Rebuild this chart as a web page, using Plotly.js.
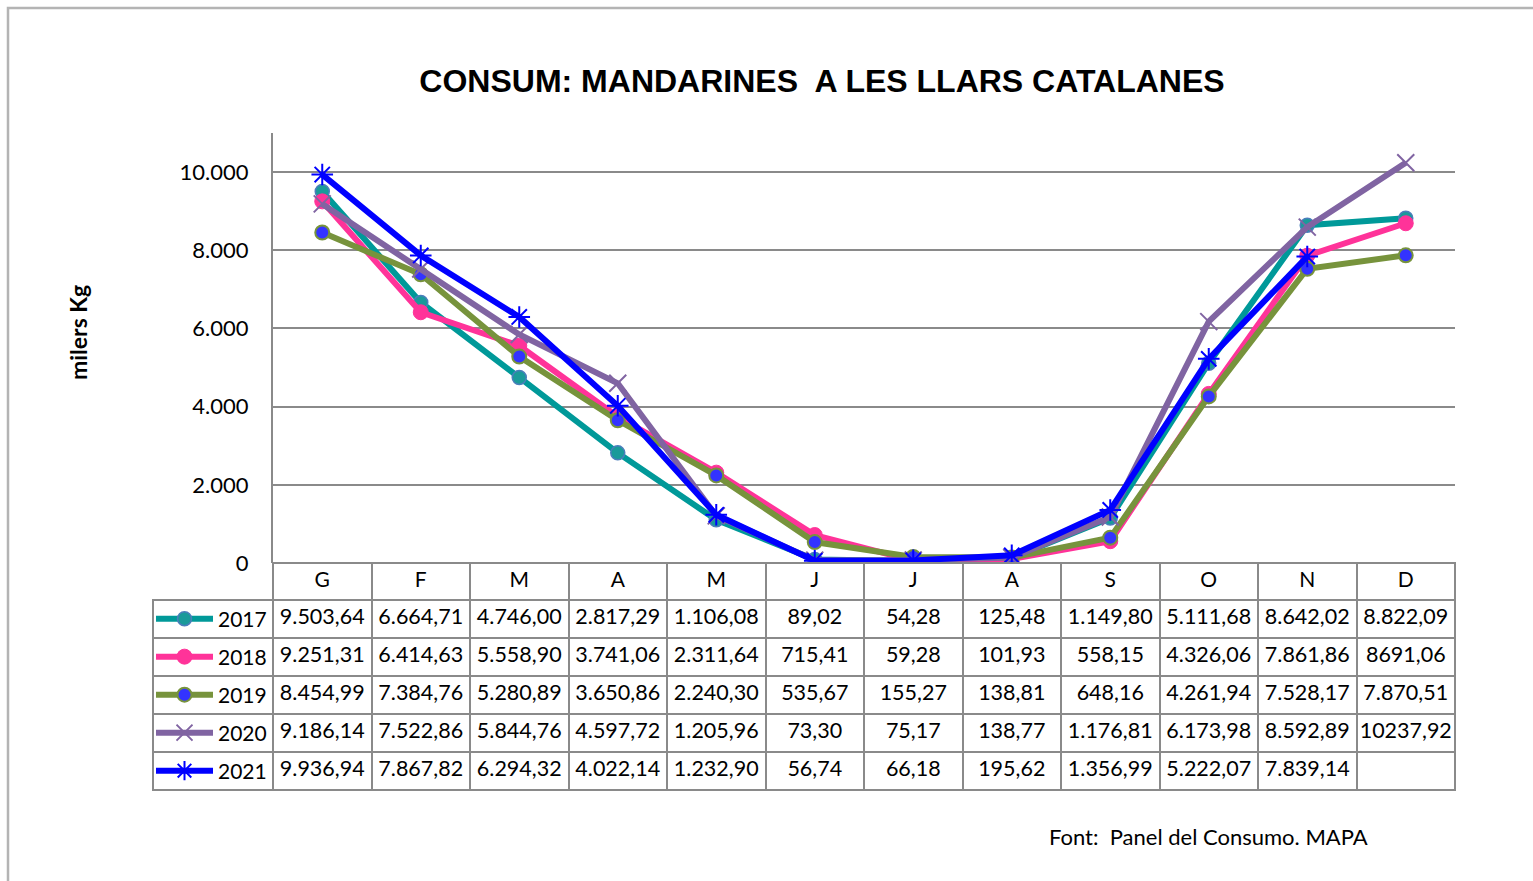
<!DOCTYPE html>
<html>
<head>
<meta charset="utf-8">
<script src="https://cdn.plot.ly/plotly-3.0.1.min.js"></script>
<style>
  html, body { margin: 0; padding: 0; background: #fff; }
  #chart { width: 1533px; height: 881px; }
</style>
</head>
<body>
<div id="chart"></div>
<script>
// months (Catalan initials) and the years in the data table
const months = ["G", "F", "M", "A", "M", "J", "J", "A", "S", "O", "N", "D"];
const years = ["2017", "2018", "2019", "2020", "2021"];

// values as printed in the data table (milers Kg)
const t2017 = ["9.503,64", "6.664,71", "4.746,00", "2.817,29", "1.106,08", "89,02", "54,28", "125,48", "1.149,80", "5.111,68", "8.642,02", "8.822,09"];
const t2018 = ["9.251,31", "6.414,63", "5.558,90", "3.741,06", "2.311,64", "715,41", "59,28", "101,93", "558,15", "4.326,06", "7.861,86", "8691,06"];
const t2019 = ["8.454,99", "7.384,76", "5.280,89", "3.650,86", "2.240,30", "535,67", "155,27", "138,81", "648,16", "4.261,94", "7.528,17", "7.870,51"];
const t2020 = ["9.186,14", "7.522,86", "5.844,76", "4.597,72", "1.205,96", "73,30", "75,17", "138,77", "1.176,81", "6.173,98", "8.592,89", "10237,92"];
const t2021 = ["9.936,94", "7.867,82", "6.294,32", "4.022,14", "1.232,90", "56,74", "66,18", "195,62", "1.356,99", "5.222,07", "7.839,14", ""];

const tables = [t2017, t2018, t2019, t2020, t2021];

// parse "9.503,64" -> 9503.64
const num = s => (s === "" ? null : parseFloat(s.replace(/\./g, "").replace(",", ".")));

const W = 1533, H = 881;
const px = x => x / W;
const py = y => 1 - y / H;

const FONT = "Lato, 'Open Sans', sans-serif";
const GRID = "#8a8a8a";
const NONE = "rgba(0,0,0,0)";

const styles = [
  { line: "#009999", marker: { symbol: "circle", size: 14, color: "#1a9a9a", line: { color: "#4a7ebb", width: 1.5 } } },
  { line: "#ff3399", marker: { symbol: "circle", size: 15, color: "#ff3399", line: { color: "#ff3399", width: 1 } } },
  { line: "#77933c", marker: { symbol: "circle", size: 14, color: "#3333ff", line: { color: "#77933c", width: 2 } } },
  { line: "#8064a2", marker: { symbol: "x-thin-open", size: 17, color: "#8064a2", line: { color: "#8064a2", width: 2 } } },
  { line: "#0000ff", marker: { symbol: "asterisk-open", size: 18, color: "#0000ff", line: { color: "#0000ff", width: 2 } } }
];

const xs = months.map((m, j) => j);

const traces = years.map((yr, i) => ({
  type: "scatter",
  mode: "lines+markers",
  name: yr,
  x: xs,
  y: tables[i].map(num),
  line: { color: styles[i].line, width: 6 },
  marker: styles[i].marker,
  legend: i === 0 ? "legend" : "legend" + (i + 1),
  cliponaxis: false
}));

// data table under the plot
const grayCol = months.map(() => GRID);
const whiteCol = months.map(() => "white");
const table = {
  type: "table",
  domain: { x: [px(153), px(1455)], y: [py(791), py(563)] },
  columnwidth: [120].concat(months.map(() => 98.5)),
  header: {
    values: [""].concat(months),
    align: "center",
    height: 37,
    font: { family: FONT, size: 21, color: "#000" },
    fill: { color: [NONE].concat(whiteCol) },
    line: { color: [NONE].concat(grayCol), width: 2 }
  },
  cells: {
    values: [years.map(() => "")].concat(months.map((m, j) => tables.map(t => t[j]))),
    align: "center",
    height: 38,
    font: { family: FONT, size: 21.5, color: "#000" },
    fill: { color: "white" },
    line: { color: GRID, width: 2 }
  }
};

const rowY = [619, 657, 695, 733, 771];

const layout = {
  width: W,
  height: H,
  margin: { l: 0, r: 0, t: 0, b: 0 },
  paper_bgcolor: "white",
  plot_bgcolor: "white",
  separators: ",.",
  showlegend: true,
  title: {
    text: "<b>CONSUM: MANDARINES\u00a0 A LES LLARS CATALANES</b>",
    font: { family: "'Liberation Sans', Arial, sans-serif", size: 32, color: "#000" },
    x: px(822), xref: "paper", xanchor: "center",
    y: py(81), yref: "paper", yanchor: "middle"
  },
  xaxis: {
    domain: [px(273), px(1455)],
    range: [-0.5, 11.5],
    showgrid: false,
    zeroline: false,
    showline: false,
    showticklabels: false,
    fixedrange: true
  },
  yaxis: {
    domain: [py(563), py(133)],
    range: [0, 11000],
    dtick: 2000,
    tickformat: ",d",
    showgrid: true,
    gridcolor: GRID,
    gridwidth: 2,
    zeroline: false,
    showline: true,
    linecolor: GRID,
    linewidth: 2,
    ticks: "",
    ticklabelstandoff: 18,
    tickfont: { family: FONT, size: 22, color: "#000" },
    fixedrange: true
  },
  annotations: [
    {
      text: "<b>milers Kg</b>",
      xref: "paper", yref: "paper",
      x: px(78), y: py(333),
      xanchor: "center", yanchor: "middle",
      textangle: -90,
      showarrow: false,
      font: { family: FONT, size: 23, color: "#000" }
    },
    {
      text: "Font:\u00a0 Panel del Consumo. MAPA",
      xref: "paper", yref: "paper",
      x: px(1208), y: py(836),
      xanchor: "center", yanchor: "middle",
      showarrow: false,
      font: { family: FONT, size: 22, color: "#000" }
    }
  ],
  shapes: [
    {
      type: "rect", xref: "paper", yref: "paper",
      x0: px(8), y0: py(8), x1: 1.05, y1: -0.05,
      line: { color: "#b4b4b4", width: 2.5 },
      layer: "below"
    }
  ]
};

years.forEach((yr, i) => {
  layout[i === 0 ? "legend" : "legend" + (i + 1)] = {
    x: px(151), xanchor: "left",
    y: py(rowY[i]), yanchor: "middle",
    bgcolor: "rgba(0,0,0,0)",
    borderwidth: 0,
    itemwidth: 57,
    font: { family: FONT, size: 21, color: "#000" }
  };
});

Plotly.newPlot("chart", [table].concat(traces), layout, { displayModeBar: false, staticPlot: true });
</script>
</body>
</html>
